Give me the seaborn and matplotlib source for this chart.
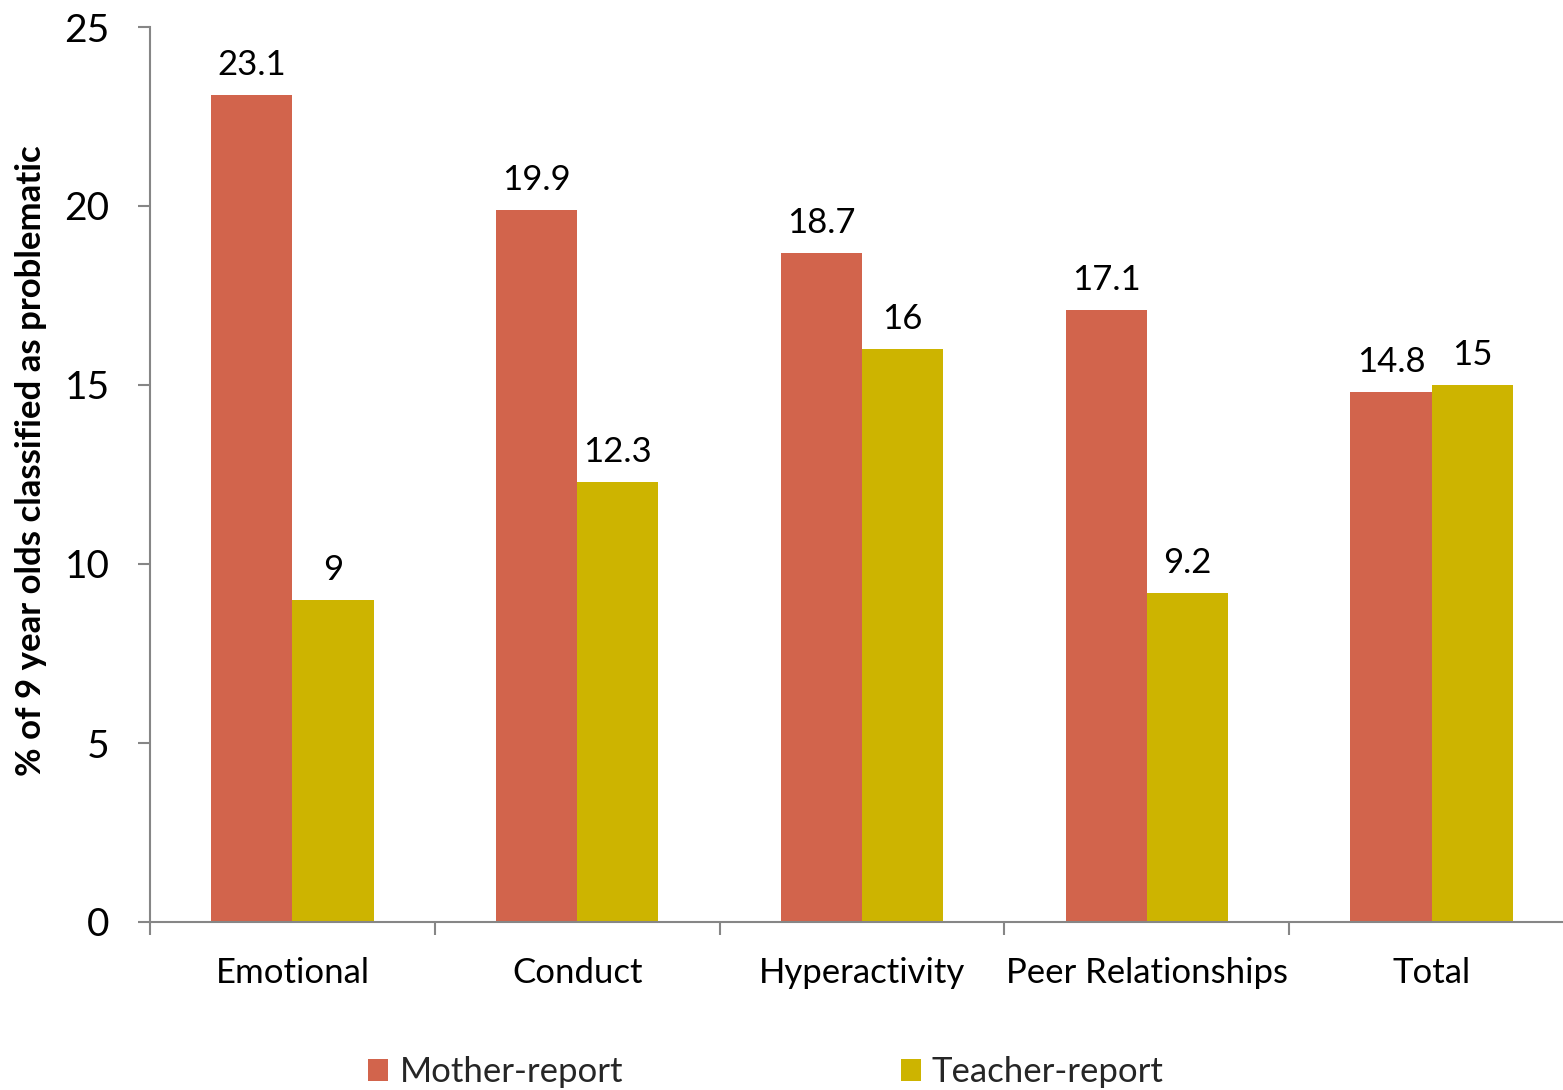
import matplotlib
matplotlib.use("Agg")
import matplotlib.pyplot as plt
import seaborn as sns
import pandas as pd
from matplotlib.ticker import FixedLocator

# Data: % of 9-year-olds classified as problematic (SDQ subscales)
categories = ["Emotional", "Conduct", "Hyperactivity", "Peer Relationships", "Total"]
mother_report = [23.1, 19.9, 18.7, 17.1, 14.8]
teacher_report = [9, 12.3, 16, 9.2, 15]
series_names = ["Mother-report", "Teacher-report"]
series_colors = ["#D2644C", "#CDB400"]
y_ticks = [0, 5, 10, 15, 20, 25]

df = pd.DataFrame({
    "category": categories * 2,
    "value": mother_report + teacher_report,
    "reporter": [series_names[0]] * len(categories) + [series_names[1]] * len(categories),
})

sns.set_theme(style="white")
plt.rcParams["font.family"] = ["Lato", "DejaVu Sans"]

fig = plt.figure(figsize=(15.63, 10.90), dpi=100)
ax = fig.add_axes([150 / 1563, 1 - 922 / 1090, 1424 / 1563, 895 / 1090])

sns.barplot(data=df, x="category", y="value", hue="reporter",
            palette=series_colors, width=0.57, gap=0, dodge=True,
            linewidth=0, saturation=1, ax=ax, legend=True)

for container in ax.containers:
    ax.bar_label(container, fmt="{:g}", padding=10, fontsize=25, color="black")

ax.set_xlim(-0.5, len(categories) - 0.5)
ax.set_ylim(0, 25)
ax.set_yticks(y_ticks)

axis_grey = "#868686"
for side in ["top", "right"]:
    ax.spines[side].set_visible(False)
for side in ["left", "bottom"]:
    ax.spines[side].set_color(axis_grey)
    ax.spines[side].set_linewidth(1.5)

ax.tick_params(axis="y", which="major", left=True, direction="out", length=9,
               width=1.5, color=axis_grey, pad=20, labelsize=28, labelcolor="black")
# category boundaries carry the x tick marks; labels sit at the centres
ax.xaxis.set_minor_locator(FixedLocator([i - 0.5 for i in range(len(categories) + 1)]))
ax.tick_params(axis="x", which="minor", bottom=True, direction="out", length=9,
               width=1.5, color=axis_grey)
ax.tick_params(axis="x", which="major", bottom=False, length=0, pad=25,
               labelsize=25, labelcolor="black")

ax.set_xlabel("")
ax.set_ylabel("% of 9 year olds classified as problematic", fontsize=25,
              fontweight="bold", color="black")
ax.yaxis.set_label_coords(-0.072, 0.515)

handles, labels = ax.get_legend_handles_labels()
ax.get_legend().remove()
fig.legend(handles, labels, loc="center", ncol=2,
           bbox_to_anchor=(766 / 1563, 1 - 1072 / 1090),
           frameon=False, fontsize=25, handlelength=0.58, handleheight=0.58,
           handletextpad=0.32, columnspacing=8.0)

fig.savefig("out.png", dpi=100)
